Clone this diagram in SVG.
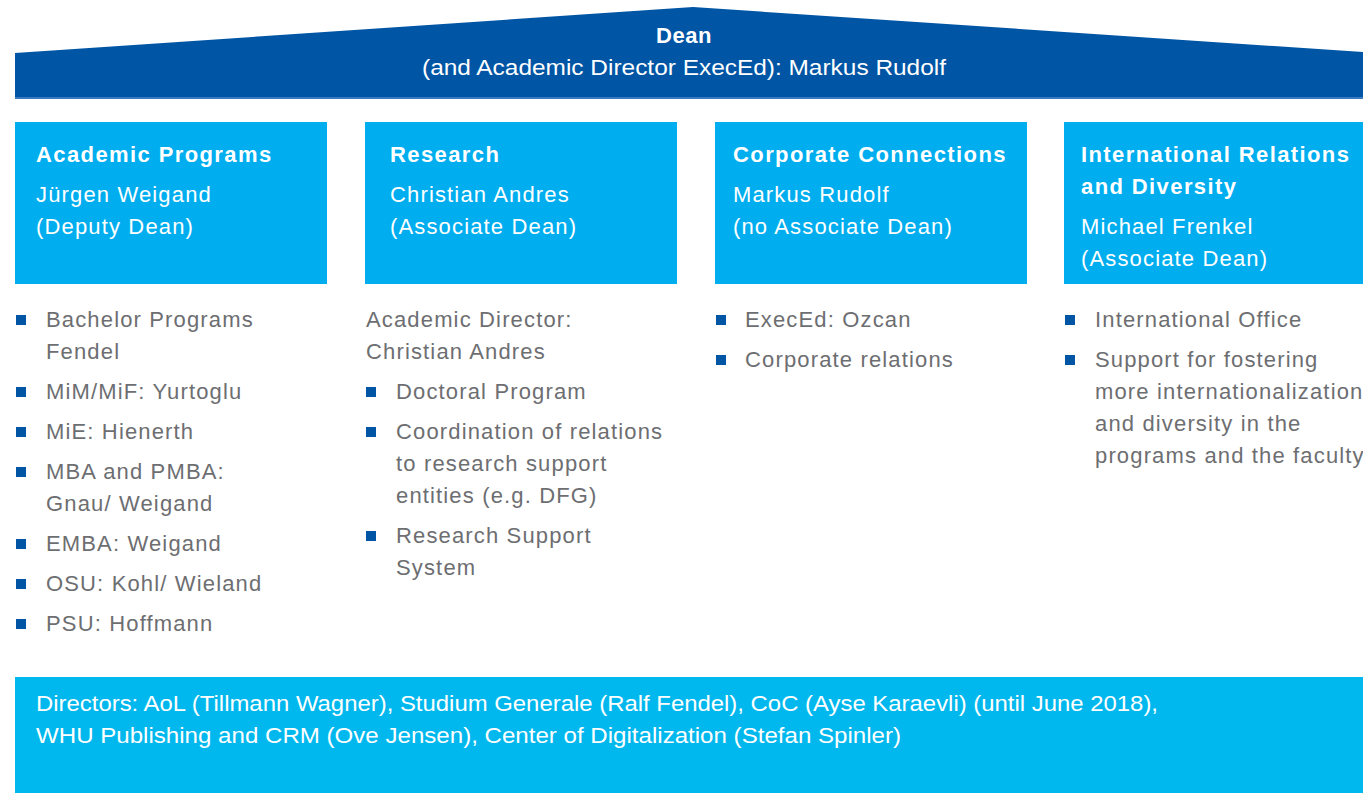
<svg xmlns="http://www.w3.org/2000/svg" width="1363" height="793" viewBox="0 0 1363 793">
<style>
.t{font-family:"Liberation Sans",Arial,sans-serif;font-size:22px;fill:#fff;letter-spacing:1.15px}
.b{font-weight:bold;letter-spacing:1.4px}
.n{letter-spacing:0}
.g{font-family:"Liberation Sans",Arial,sans-serif;font-size:22px;fill:#6d6e71;letter-spacing:1.15px}
.box{fill:#00aeef}
.sq{fill:#0055a5}
</style>
<rect width="1363" height="793" fill="#fff"/>
<g id="dean">
<polygon points="15,53 693,7 1363,52 1363,99 15,99" fill="#0055a5"/>
<rect x="15" y="97" width="1348" height="2" fill="#3a7cc4"/>
<text class="t b" x="684" y="43" text-anchor="middle" style="letter-spacing:0.5px">Dean</text>
<text class="t n" x="684" y="75" text-anchor="middle" textLength="524" lengthAdjust="spacingAndGlyphs">(and Academic Director ExecEd): Markus Rudolf</text>
</g>
<g id="academic">
<rect class="box" x="15" y="122" width="312" height="162"/>
<text class="t b" x="36" y="162">Academic Programs</text>
<text class="t" x="36" y="202">Jürgen Weigand</text>
<text class="t" x="36" y="234">(Deputy Dean)</text>
<g class="g">
<rect class="sq" x="16" y="315" width="10" height="10"/><text x="46" y="327">Bachelor Programs</text><text x="46" y="359">Fendel</text>
<rect class="sq" x="16" y="387" width="10" height="10"/><text x="46" y="399">MiM/MiF: Yurtoglu</text>
<rect class="sq" x="16" y="427" width="10" height="10"/><text x="46" y="439">MiE: Hienerth</text>
<rect class="sq" x="16" y="467" width="10" height="10"/><text x="46" y="479">MBA and PMBA:</text><text x="46" y="511">Gnau/ Weigand</text>
<rect class="sq" x="16" y="539" width="10" height="10"/><text x="46" y="551">EMBA: Weigand</text>
<rect class="sq" x="16" y="579" width="10" height="10"/><text x="46" y="591">OSU: Kohl/ Wieland</text>
<rect class="sq" x="16" y="619" width="10" height="10"/><text x="46" y="631">PSU: Hoffmann</text>
</g>
</g>
<g id="research">
<rect class="box" x="365" y="122" width="312" height="162"/>
<text class="t b" x="390" y="162">Research</text>
<text class="t" x="390" y="202">Christian Andres</text>
<text class="t" x="390" y="234">(Associate Dean)</text>
<g class="g">
<text x="366" y="327">Academic Director:</text><text x="366" y="359">Christian Andres</text>
<rect class="sq" x="366" y="387" width="10" height="10"/><text x="396" y="399">Doctoral Program</text>
<rect class="sq" x="366" y="427" width="10" height="10"/><text x="396" y="439">Coordination of relations</text><text x="396" y="471">to research support</text><text x="396" y="503">entities (e.g. DFG)</text>
<rect class="sq" x="366" y="531" width="10" height="10"/><text x="396" y="543">Research Support</text><text x="396" y="575">System</text>
</g>
</g>
<g id="corporate">
<rect class="box" x="715" y="122" width="312" height="162"/>
<text class="t b" x="733" y="162">Corporate Connections</text>
<text class="t" x="733" y="202">Markus Rudolf</text>
<text class="t" x="733" y="234">(no Associate Dean)</text>
<g class="g">
<rect class="sq" x="716" y="315" width="10" height="10"/><text x="745" y="327">ExecEd: Ozcan</text>
<rect class="sq" x="716" y="355" width="10" height="10"/><text x="745" y="367">Corporate relations</text>
</g>
</g>
<g id="international">
<rect class="box" x="1064" y="122" width="299" height="162"/>
<text class="t b" x="1081" y="162">International Relations</text>
<text class="t b" x="1081" y="194">and Diversity</text>
<text class="t" x="1081" y="234">Michael Frenkel</text>
<text class="t" x="1081" y="266">(Associate Dean)</text>
<g class="g">
<rect class="sq" x="1065" y="315" width="10" height="10"/><text x="1095" y="327">International Office</text>
<rect class="sq" x="1065" y="355" width="10" height="10"/><text x="1095" y="367">Support for fostering</text><text x="1095" y="399">more internationalization</text><text x="1095" y="431">and diversity in the</text><text x="1095" y="463">programs and the faculty</text>
</g>
</g>
<g id="directors">
<rect x="15" y="677" width="1348" height="116" fill="#00b8ee"/>
<text class="t n" x="36" y="711" textLength="1122" lengthAdjust="spacingAndGlyphs">Directors: AoL (Tillmann Wagner), Studium Generale (Ralf Fendel), CoC (Ayse Karaevli) (until June 2018),</text>
<text class="t n" x="36" y="743" textLength="865" lengthAdjust="spacingAndGlyphs">WHU Publishing and CRM (Ove Jensen), Center of Digitalization (Stefan Spinler)</text>
</g>
<g id="connectors"></g>
</svg>
